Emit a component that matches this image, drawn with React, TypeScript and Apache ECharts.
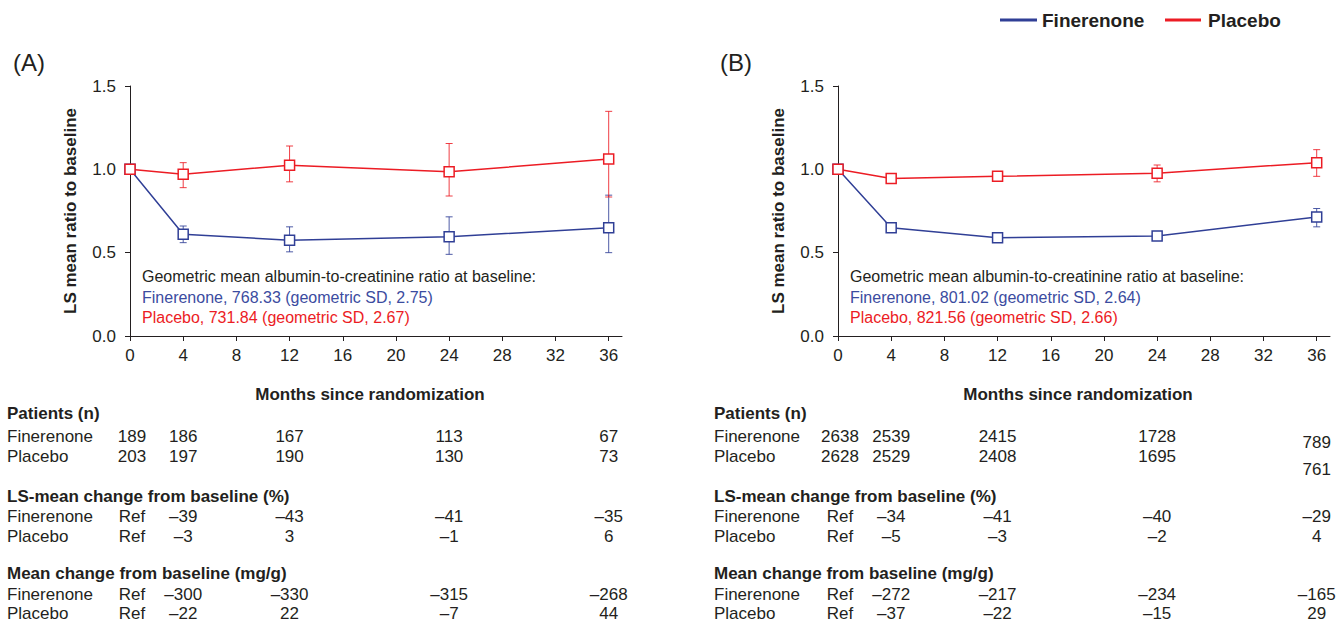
import React, { useEffect, useRef } from "react";
import * as echarts from "echarts";

const FONT = '"Liberation Sans", Arial, Helvetica, sans-serif';
const BLUE = "#303F96";
const RED = "#EC1C24";
const INK = "#231F20";

// ---- data ----
const MONTHS = [0, 4, 12, 24, 36];
const X_TICKS = [0, 4, 8, 12, 16, 20, 24, 28, 32, 36];
const Y_TICKS = [0, 0.5, 1.0, 1.5];

// Panel A
const finA = [1.0, 0.61, 0.575, 0.595, 0.65];
const finA_lo = [1.0, 0.56, 0.505, 0.49, 0.5];
const finA_hi = [1.0, 0.66, 0.655, 0.715, 0.845];
const plaA = [1.0, 0.97, 1.025, 0.985, 1.062];
const plaA_lo = [1.0, 0.89, 0.925, 0.84, 0.834];
const plaA_hi = [1.0, 1.04, 1.14, 1.155, 1.348];

// Panel B
const finB = [1.0, 0.65, 0.59, 0.6, 0.714];
const finB_lo = [1.0, 0.64, 0.58, 0.59, 0.655];
const finB_hi = [1.0, 0.665, 0.6, 0.612, 0.765];
const plaB = [1.0, 0.945, 0.958, 0.977, 1.04];
const plaB_lo = [1.0, 0.935, 0.948, 0.925, 0.958];
const plaB_hi = [1.0, 0.955, 0.968, 1.026, 1.118];

// Tables
const patA_fin = [189, 186, 167, 113, 67];
const patA_pla = [203, 197, 190, 130, 73];
const lsA_fin = [null, -39, -43, -41, -35];
const lsA_pla = [null, -3, 3, -1, 6];
const mcA_fin = [null, -300, -330, -315, -268];
const mcA_pla = [null, -22, 22, -7, 44];

const patB_fin = [2638, 2539, 2415, 1728, 789];
const patB_pla = [2628, 2529, 2408, 1695, 761];
const lsB_fin = [null, -34, -41, -40, -29];
const lsB_pla = [null, -5, -3, -2, 4];
const mcB_fin = [null, -272, -217, -234, -165];
const mcB_pla = [null, -37, -22, -15, 29];

const BASELINE_A = [
  "Geometric mean albumin-to-creatinine ratio at baseline:",
  "Finerenone, 768.33 (geometric SD, 2.75)",
  "Placebo, 731.84 (geometric SD, 2.67)",
];
const BASELINE_B = [
  "Geometric mean albumin-to-creatinine ratio at baseline:",
  "Finerenone, 801.02 (geometric SD, 2.64)",
  "Placebo, 821.56 (geometric SD, 2.66)",
];

// ---- layout ----
const GRID_TOP = 86;
const GRID_H = 250;
const GRID_W = 492;
const X_MAX = 37;
const PANELS = [
  { left: 130, labelX: 7, tag: "(A)", tagX: 13 },
  { left: 838, labelX: 714, tag: "(B)", tagX: 720 },
];

function fmt(v: number | null): string {
  if (v === null) return "Ref";
  return v < 0 ? "\u2013" + Math.abs(v) : String(v);
}

function txt(text: string, x: number, y: number, opts: any = {}) {
  const align = opts.align || "left";
  return {
    type: "text",
    x,
    y,
    silent: true,
    style: {
      text,
      fill: opts.fill || INK,
      font: `${opts.bold ? "bold " : ""}${opts.size || 17}px ${FONT}`,
      align,
      textAlign: align,
      verticalAlign: "middle",
      textVerticalAlign: "middle",
    },
  };
}

function errSeries(name: string, idx: number, lo: number[], hi: number[], color: string) {
  return {
    name,
    type: "custom",
    xAxisIndex: idx,
    yAxisIndex: idx,
    z: 1,
    silent: true,
    encode: { x: 0, y: [1, 2] },
    data: MONTHS.map((m, i) => [m, lo[i], hi[i]]).filter((d) => d[1] !== d[2]),
    renderItem: (params: any, api: any) => {
      const x = api.value(0);
      const top = api.coord([x, api.value(2)]);
      const bot = api.coord([x, api.value(1)]);
      const w = 3.5;
      const style = { stroke: color, lineWidth: 1, opacity: 0.85 };
      return {
        type: "group",
        children: [
          { type: "line", shape: { x1: top[0], y1: top[1], x2: bot[0], y2: bot[1] }, style },
          { type: "line", shape: { x1: top[0] - w, y1: top[1], x2: top[0] + w, y2: top[1] }, style },
          { type: "line", shape: { x1: bot[0] - w, y1: bot[1], x2: bot[0] + w, y2: bot[1] }, style },
        ],
      };
    },
  };
}

function lineSeries(name: string, idx: number, vals: number[], color: string) {
  return {
    name,
    type: "line",
    xAxisIndex: idx,
    yAxisIndex: idx,
    z: 3,
    data: MONTHS.map((m, i) => [m, vals[i]]),
    symbol: "rect",
    symbolSize: 10,
    lineStyle: { color, width: 1.5 },
    itemStyle: { color: "#ffffff", borderColor: color, borderWidth: 1.5 },
  };
}

export default function App() {
  const ref = useRef<HTMLDivElement>(null);

  useEffect(() => {
    if (!ref.current) return;
    const chart = echarts.init(ref.current, undefined, { renderer: "svg" });
    const pxPerMonth = GRID_W / X_MAX;

    const graphics: any[] = [];
    // legend
    graphics.push({ type: "line", shape: { x1: 1000, y1: 20, x2: 1037, y2: 20 }, style: { stroke: BLUE, lineWidth: 3 } });
    graphics.push(txt("Finerenone", 1042, 20, { bold: true, size: 19 }));
    graphics.push({ type: "line", shape: { x1: 1165, y1: 20, x2: 1201, y2: 20 }, style: { stroke: RED, lineWidth: 3 } });
    graphics.push(txt("Placebo", 1208, 20, { bold: true, size: 19 }));

    const tables = [
      { pat: [patA_fin, patA_pla], ls: [lsA_fin, lsA_pla], mc: [mcA_fin, mcA_pla], base: BASELINE_A, lastOffset: [0, 0] },
      { pat: [patB_fin, patB_pla], ls: [lsB_fin, lsB_pla], mc: [mcB_fin, mcB_pla], base: BASELINE_B, lastOffset: [6, 13] },
    ];

    PANELS.forEach((p, pi) => {
      const t = tables[pi];
      graphics.push(txt(p.tag, p.tagX, 62, { size: 24 }));
      // baseline annotation
      graphics.push(txt(t.base[0], p.left + 12, 276, { size: 16 }));
      graphics.push(txt(t.base[1], p.left + 12, 297, { size: 16, fill: "#3B4CA0" }));
      graphics.push(txt(t.base[2], p.left + 12, 317, { size: 16, fill: RED }));
      // x axis title
      graphics.push(txt("Months since randomization", p.left + 240, 394, { bold: true, align: "center" }));
      const colX = MONTHS.map((m) => p.left + m * pxPerMonth + (m === 0 ? 2 : 0));
      const sections = [
        { title: "Patients (n)", ty: 413, rows: t.pat, ry: [436, 456], isPat: true },
        { title: "LS-mean change from baseline (%)", ty: 496, rows: t.ls, ry: [516, 536], isPat: false },
        { title: "Mean change from baseline (mg/g)", ty: 573, rows: t.mc, ry: [594, 613], isPat: false },
      ];
      sections.forEach((s) => {
        graphics.push(txt(s.title, p.labelX, s.ty, { bold: true }));
        ["Finerenone", "Placebo"].forEach((rn, ri) => {
          graphics.push(txt(rn, p.labelX, s.ry[ri], {}));
          (s.rows[ri] as any[]).forEach((v, ci) => {
            const yOff = s.isPat && ci === 4 ? t.lastOffset[ri] : 0;
            graphics.push(txt(fmt(v), colX[ci], s.ry[ri] + yOff, { align: "center" }));
          });
        });
      });
    });

    const xAxes = PANELS.map((_, i) => ({
      gridIndex: i,
      type: "value",
      min: 0,
      max: X_MAX,
      interval: 4,
      axisLine: { show: true, onZero: false, lineStyle: { color: INK, width: 1 } },
      axisTick: { show: true, length: 5, lineStyle: { color: INK }, customValues: X_TICKS },
      axisLabel: { customValues: X_TICKS, fontSize: 17, fontFamily: FONT, color: INK, margin: 11 },
      splitLine: { show: false },
    }));
    const yAxes = PANELS.map((_, i) => ({
      gridIndex: i,
      type: "value",
      min: 0,
      max: 1.5,
      interval: 0.5,
      name: "LS mean ratio to baseline",
      nameLocation: "middle",
      nameGap: 51,
      nameTextStyle: { fontSize: 17, fontWeight: "bold", fontFamily: FONT, color: INK },
      axisLine: { show: true, lineStyle: { color: INK, width: 1 } },
      axisTick: { show: true, length: 5, lineStyle: { color: INK }, customValues: Y_TICKS },
      axisLabel: {
        customValues: Y_TICKS,
        fontSize: 17,
        fontFamily: FONT,
        color: INK,
        margin: 14,
        formatter: (v: number) => v.toFixed(1),
      },
      splitLine: { show: false },
    }));

    chart.setOption({
      animation: false,
      backgroundColor: "#ffffff",
      grid: PANELS.map((p) => ({ left: p.left, top: GRID_TOP, width: GRID_W, height: GRID_H, containLabel: false })),
      xAxis: xAxes,
      yAxis: yAxes,
      series: [
        errSeries("errFinA", 0, finA_lo, finA_hi, BLUE),
        errSeries("errPlaA", 0, plaA_lo, plaA_hi, RED),
        lineSeries("Finerenone", 0, finA, BLUE),
        lineSeries("Placebo", 0, plaA, RED),
        errSeries("errFinB", 1, finB_lo, finB_hi, BLUE),
        errSeries("errPlaB", 1, plaB_lo, plaB_hi, RED),
        lineSeries("Finerenone", 1, finB, BLUE),
        lineSeries("Placebo", 1, plaB, RED),
      ],
      graphic: graphics,
    });

    return () => chart.dispose();
  }, []);

  return (
    <div
      ref={ref}
      style={{ position: "fixed", left: 0, top: 0, width: 1338, height: 623, background: "#fff" }}
    />
  );
}
